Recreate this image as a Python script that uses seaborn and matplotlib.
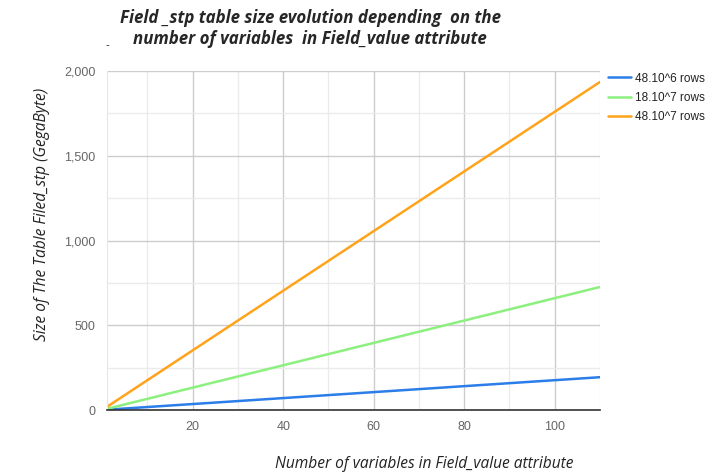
import pandas as pd
import matplotlib.pyplot as plt
import seaborn as sns
from matplotlib.ticker import MultipleLocator, FuncFormatter

# number of variables in Field_value attribute
n_vars = [1, 10, 20, 30, 40, 50, 60, 70, 80, 90, 100, 110]
# table size in GB for each row count
size_48e6 = [1.76, 17.6, 35.2, 52.8, 70.4, 88, 105.6, 123.2, 140.8, 158.4, 176, 193.6]
size_18e7 = [6.6, 66, 132, 198, 264, 330, 396, 462, 528, 594, 660, 726]
size_48e7 = [17.6, 176, 352, 528, 704, 880, 1056, 1232, 1408, 1584, 1760, 1936]
series_names = ['48.10^6 rows', '18.10^7 rows', '48.10^7 rows']
colors = ['#2b7de9', '#8cf07f', '#ffa31a']

df = pd.concat([
    pd.DataFrame({'vars': n_vars, 'size': vals, 'rows': name})
    for name, vals in zip(series_names, [size_48e6, size_18e7, size_48e7])
], ignore_index=True)

sns.set_style('white')
plt.rcParams['font.family'] = ['Liberation Sans', 'DejaVu Sans']

fig = plt.figure(figsize=(7.16, 4.74), dpi=100)
ax = fig.add_axes([0.149, 0.135, 0.689, 0.715])

sns.lineplot(data=df, x='vars', y='size', hue='rows', palette=colors,
             linewidth=1.8, ax=ax, legend=True)

ax.set_xlim(1, 110)
ax.set_ylim(0, 2000)
ax.xaxis.set_major_locator(MultipleLocator(20))
ax.xaxis.set_minor_locator(MultipleLocator(10))
ax.yaxis.set_major_locator(MultipleLocator(500))
ax.yaxis.set_minor_locator(MultipleLocator(250))
ax.yaxis.set_major_formatter(FuncFormatter(lambda v, p: '{:,.0f}'.format(v)))
ax.grid(which='major', color='#cccccc', linewidth=1)
ax.grid(which='minor', color='#ebebeb', linewidth=1)
ax.set_axisbelow(True)
ax.tick_params(which='both', length=0, labelsize=9, labelcolor='#666666', pad=8)

for s in ['top', 'right']:
    ax.spines[s].set_visible(False)
ax.spines['left'].set_color('#e6e6e6')
ax.spines['bottom'].set_color('#333333')
ax.spines['bottom'].set_linewidth(1.2)

ax.set_xlabel('')
ax.set_ylabel('')
fig.text(0.592, 0.005, 'Number of variables in Field_value attribute',
         ha='center', va='bottom', fontsize=11.2, style='italic',
         family=['Open Sans', 'DejaVu Sans'], color='#222222')
fig.text(0.058, 0.548, 'Size of The Table Filed_stp (GegaByte)',
         ha='center', va='center', rotation=90, fontsize=11.2, style='italic',
         family=['Open Sans', 'DejaVu Sans'], color='#222222')

fig.text(0.433, 0.963, 'Field _stp table size evolution depending  on the',
         ha='center', va='center', fontsize=12.2, style='italic', weight='bold',
         family=['Open Sans', 'DejaVu Sans'])
fig.text(0.433, 0.918, 'number of variables  in Field_value attribute',
         ha='center', va='center', fontsize=12.2, style='italic', weight='bold',
         family=['Open Sans', 'DejaVu Sans'])
fig.text(0.150, 0.905, '-', ha='center', va='center', fontsize=8)

leg = ax.legend(loc='upper left', bbox_to_anchor=(1.0, 1.02), frameon=False,
                fontsize=8.5, handlelength=1.9, handletextpad=0.4, labelspacing=0.6,
                borderaxespad=0.3)
for t in leg.get_texts():
    t.set_color('#222222')

fig.savefig('out.png', dpi=100)
